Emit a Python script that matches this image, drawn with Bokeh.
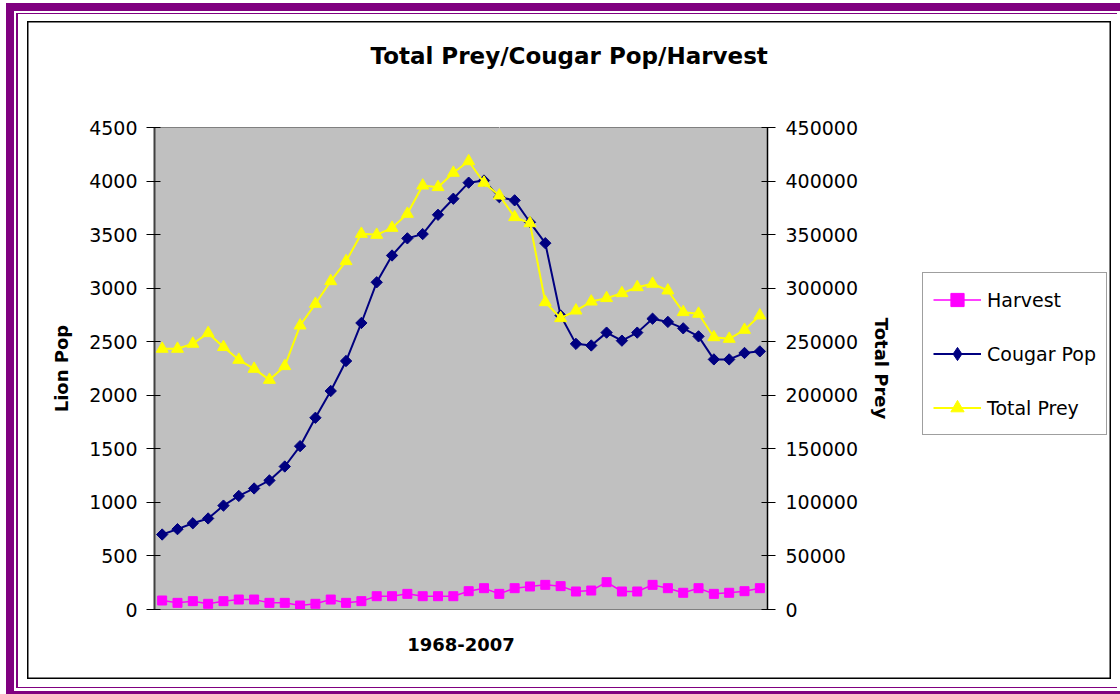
import numpy as np
from bokeh.plotting import figure
from bokeh.layouts import row
from bokeh.models import (Range1d, LinearAxis, FixedTicker, NumeralTickFormatter,
                          Legend, LegendItem)
from bokeh.embed import file_html
from bokeh.resources import INLINE

# ---------------- data ----------------
years = list(range(1968, 2008))
harvest = [84, 62, 78, 53, 78, 93, 93, 62, 62, 37, 53, 93, 62, 78, 124, 124, 146, 124, 124, 124,
           171, 199, 146, 199, 215, 230, 218, 168, 177, 255, 168, 168, 230, 199, 156, 199, 146, 156, 171, 199]
cougar_pop = [700, 750, 805, 850, 970, 1060, 1130, 1205, 1335, 1525, 1790, 2040, 2320, 2675, 3055,
              3305, 3465, 3505, 3685, 3835, 3985, 4005, 3850, 3820, 3615, 3420, 2745, 2480, 2465,
              2585, 2510, 2585, 2715, 2685, 2625, 2550, 2335, 2335, 2395, 2410]
total_prey = [243400, 243400, 248100, 258000, 245000, 233100, 224700, 214400, 227200, 265100,
              285400, 306500, 325200, 350700, 349800, 356300, 369400, 395800, 394300, 407700,
              418500, 398400, 386500, 366300, 360600, 286900, 272000, 279100, 287500, 290700,
              295300, 300900, 304100, 297800, 277600, 276100, 254200, 252700, 261100, 274500]
left_ticks = list(range(0, 4501, 500))
right_ticks = list(range(0, 450001, 50000))
series_names = ["Harvest", "Cougar Pop", "Total Prey"]
colors = ["#FF00FF", "#000080", "#FFFF00"]

FONT = "DejaVu Sans"
PURPLE = "#800080"

MAIN_W, LEG_W, H = 900, 220, 694
FRAME_BOTTOM = 609  # frames of the row are aligned: legend canvas shares it

p = figure(width=MAIN_W, height=H,
           x_range=Range1d(1967.5, 2007.5), y_range=Range1d(0, 4500),
           output_backend="svg", toolbar_location=None,
           min_border_left=154, min_border_right=MAIN_W - 767, min_border_top=127,
           min_border_bottom=H - FRAME_BOTTOM)
p.extra_y_ranges = {"prey": Range1d(0, 450000)}

p.background_fill_color = "#C0C0C0"
p.border_fill_alpha = 0
p.outline_line_color = "#808080"
p.outline_line_width = 1
p.xgrid.visible = False
p.ygrid.visible = False

# x axis (below)
xa = p.below[0]
xa.ticker = FixedTicker(ticks=[])
xa.axis_label = "1968-2007"
xa.axis_label_text_font = FONT
xa.axis_label_text_font_size = "18px"
xa.axis_label_text_font_style = "bold"
xa.axis_label_text_color = "black"
xa.axis_label_standoff = 28
xa.axis_line_color = "#808080"
xa.major_tick_out = 0
xa.major_tick_in = 0
xa.major_tick_line_color = None
xa.minor_tick_line_color = None

# invisible spacer above the frame so the title sits near the top
spacer = LinearAxis(ticker=FixedTicker(ticks=[1990]), major_label_overrides={1990: ""},
                    major_tick_out=54, major_tick_in=0, major_label_standoff=0,
                    major_tick_line_color="white", minor_tick_line_color=None,
                    axis_line_color=None)
p.add_layout(spacer, "above")

# title
p.title.text = "Total Prey/Cougar Pop/Harvest"
p.title.text_font = FONT
p.title.text_font_size = "23px"
p.title.text_font_style = "bold"
p.title.text_color = "black"
p.title.align = "left"
p.title.offset = 216
p.title.standoff = 10

# left axis
ya = p.left[0]
ya.ticker = FixedTicker(ticks=left_ticks)
ya.formatter = NumeralTickFormatter(format="0")
ya.axis_label = "Lion Pop"
ya.axis_label_text_font = FONT
ya.axis_label_text_font_size = "18px"
ya.axis_label_text_font_style = "bold"
ya.axis_label_text_color = "black"
ya.axis_label_standoff = 14
ya.major_label_text_font = FONT
ya.major_label_text_font_size = "19px"
ya.major_label_text_color = "black"
ya.major_label_standoff = 9
ya.major_tick_in = 6
ya.major_tick_out = 8
ya.major_tick_line_color = "black"
ya.minor_tick_line_color = None
ya.axis_line_color = "#404040"
ya.axis_line_width = 2

# right axis
ra = LinearAxis(y_range_name="prey", ticker=FixedTicker(ticks=right_ticks),
                formatter=NumeralTickFormatter(format="0"))
ra.axis_label = "Total Prey"
ra.axis_label_text_font = FONT
ra.axis_label_text_font_size = "18px"
ra.axis_label_text_font_style = "bold"
ra.axis_label_text_color = "black"
ra.axis_label_standoff = 10
ra.major_label_text_font = FONT
ra.major_label_text_font_size = "19px"
ra.major_label_text_color = "black"
ra.major_label_standoff = 10
ra.major_tick_in = 6
ra.major_tick_out = 8
ra.major_tick_line_color = "black"
ra.minor_tick_line_color = None
ra.axis_line_color = "black"
ra.axis_line_width = 1.5
p.add_layout(ra, "right")

# series
def draw_series(fig, ys, idx, y_range_name="default", for_legend=False):
    kw = {} if y_range_name == "default" else {"y_range_name": y_range_name}
    c = colors[idx]
    if idx == 0:
        ln = fig.line(years, ys, line_color=c, line_width=1.5, **kw)
        mk = fig.scatter(years, ys, marker="square", size=9 if not for_legend else 8,
                         fill_color=c, line_color=c, **kw)
    elif idx == 1:
        ln = fig.line(years, ys, line_color=c, line_width=2, **kw)
        if for_legend:
            mk = fig.scatter(years, ys, marker="diamond", size=13,
                             fill_color=c, line_color=c, **kw)
        else:
            mk = fig.scatter(years, ys, marker="square", angle=np.pi / 4, size=8,
                             fill_color=c, line_color=c, **kw)
    else:
        ln = fig.line(years, ys, line_color=c, line_width=2, **kw)
        mk = fig.scatter(years, ys, marker="triangle", size=12, fill_color=c, line_color=c, **kw)
    return ln, mk

draw_series(p, harvest, 0)
draw_series(p, cougar_pop, 1)
draw_series(p, total_prey, 2, "prey")

# ---------------- legend panel (separate canvas to the right) ----------------
# same series drawn again outside its visible range, only to feed the legend swatches
q = figure(width=LEG_W, height=H, x_range=Range1d(0, 1), y_range=Range1d(0, 1),
           x_axis_type=None, y_axis_type=None, output_backend="svg", toolbar_location=None,
           min_border=0)
q.border_fill_alpha = 0
q.background_fill_alpha = 0
q.outline_line_color = None
q.xgrid.visible = False
q.ygrid.visible = False

proxies = [draw_series(q, harvest, 0, for_legend=True),
           draw_series(q, cougar_pop, 1, for_legend=True),
           draw_series(q, total_prey, 2, for_legend=True)]

legend = Legend(items=[LegendItem(label=name, renderers=list(pr))
                       for name, pr in zip(series_names, proxies)],
                location=(922 - MAIN_W, FRAME_BOTTOM - 435))
legend.label_text_font = FONT
legend.label_text_font_size = "19px"
legend.label_text_color = "black"
legend.border_line_color = "#404040"
legend.border_line_width = 1
legend.background_fill_color = "white"
legend.background_fill_alpha = 1
legend.glyph_width = 48
legend.glyph_height = 33
legend.label_height = 33
legend.spacing = 21
legend.padding = 10
legend.label_standoff = 6
legend.margin = 0
q.add_layout(legend, "center")

layout = row(p, q)
# decorative double frame of the chart sheet (CSS inset shadows on the container)
layout.styles = {
    "background-color": "white",
    "box-shadow": ("inset 4.5px 1.5px 0 1.5px white, "
                   "inset 7px 4px 0 7px " + PURPLE + ", "
                   "inset 6.5px 3.5px 0 9.5px white, "
                   "inset 7.5px 3.5px 0 10.5px " + PURPLE + ", "
                   "inset 9px 3px 0 18px white, "
                   "inset 9px 3px 0 19.5px black"),
}

open("out.html", "w").write(file_html(layout, INLINE))
